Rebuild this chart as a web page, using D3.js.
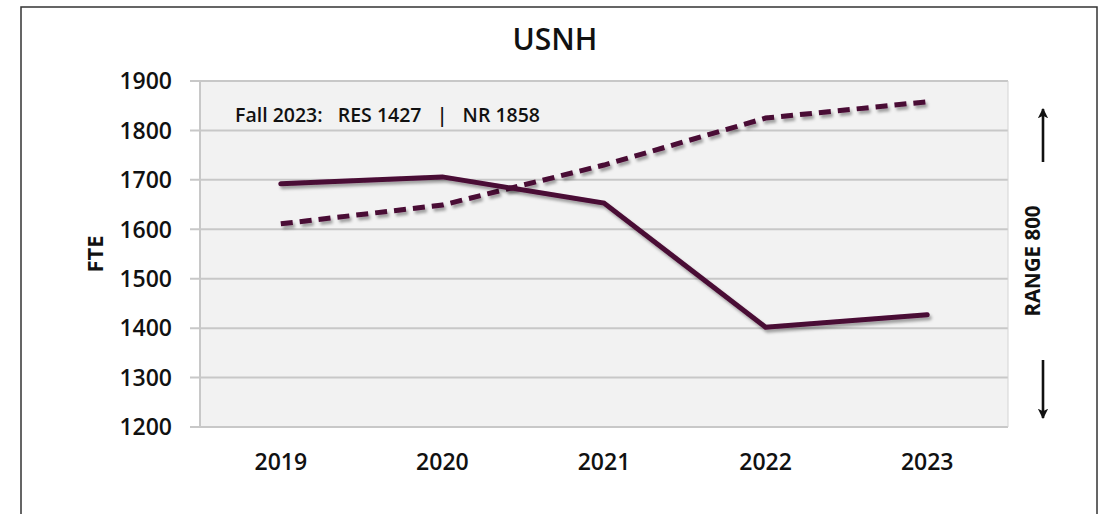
<!DOCTYPE html>
<html>
<head>
<meta charset="utf-8">
<script src="https://cdn.jsdelivr.net/npm/d3@7"></script>
<style>
  body { margin: 0; background: #fff; }
  text { font-family: "Open Sans", "Noto Sans", sans-serif; fill: #111; }
</style>
</head>
<body>
<svg width="1104" height="514"></svg>
<script>
  const years = ["2019", "2020", "2021", "2022", "2023"];
  const resValues = [1692, 1706, 1653, 1402, 1427];
  const nrValues = [1611, 1649, 1730, 1825, 1858];
  const yTicks = [1200, 1300, 1400, 1500, 1600, 1700, 1800, 1900];

  const svg = d3.select("svg");
  const lineColor = "#4a0934";

  const plot = { left: 200, right: 1008, top: 81, bottom: 427 };

  const x = d3.scaleBand().domain(years).range([plot.left, plot.right]);
  const y = d3.scaleLinear().domain([1200, 1900]).range([plot.bottom, plot.top]);

  // drop shadow for the lines
  const defs = svg.append("defs");
  defs.append("filter")
    .attr("id", "shadow")
    .attr("x", "-10%").attr("y", "-50%").attr("width", "120%").attr("height", "200%")
    .append("feDropShadow")
      .attr("dx", 2).attr("dy", 3)
      .attr("stdDeviation", 1.8)
      .attr("flood-color", "#000")
      .attr("flood-opacity", 0.35);

  // outer frame
  svg.append("rect")
    .attr("x", 21).attr("y", 7)
    .attr("width", 1076).attr("height", 520)
    .attr("fill", "none")
    .attr("stroke", "#333").attr("stroke-width", 1.5);

  // plot background
  svg.append("rect")
    .attr("x", plot.left).attr("y", plot.top)
    .attr("width", plot.right - plot.left).attr("height", plot.bottom - plot.top)
    .attr("fill", "#f2f2f2");

  // gridlines + y ticks
  svg.append("g")
    .selectAll("line")
    .data(yTicks)
    .enter().append("line")
      .attr("x1", plot.left - 10).attr("x2", plot.right)
      .attr("y1", d => y(d)).attr("y2", d => y(d))
      .attr("stroke", "#c8c8c8").attr("stroke-width", 2);

  svg.append("line")
    .attr("x1", plot.left).attr("x2", plot.left)
    .attr("y1", plot.top).attr("y2", plot.bottom)
    .attr("stroke", "#c8c8c8").attr("stroke-width", 2);

  svg.append("line")
    .attr("x1", plot.right).attr("x2", plot.right)
    .attr("y1", plot.top).attr("y2", plot.bottom)
    .attr("stroke", "#d4d4d4").attr("stroke-width", 1);

  svg.append("g")
    .selectAll("text")
    .data(yTicks)
    .enter().append("text")
      .attr("x", 172)
      .attr("y", d => y(d))
      .attr("dy", "0.36em")
      .attr("text-anchor", "end")
      .attr("font-size", 23)
      .attr("font-weight", 600)
      .text(d => d);

  svg.append("g")
    .selectAll("text")
    .data(years)
    .enter().append("text")
      .attr("x", d => x(d) + x.bandwidth() / 2)
      .attr("y", 470)
      .attr("text-anchor", "middle")
      .attr("font-size", 23)
      .attr("font-weight", 600)
      .text(d => d);

  // title
  svg.append("text")
    .attr("x", 555).attr("y", 50)
    .attr("text-anchor", "middle")
    .attr("font-size", 30)
    .attr("font-weight", 600)
    .text("USNH");

  // axis title
  svg.append("text")
    .attr("transform", "translate(103,254) rotate(-90)")
    .attr("text-anchor", "middle")
    .attr("font-size", 22)
    .attr("font-weight", 700)
    .text("FTE");

  // annotation
  svg.append("text")
    .attr("x", 235).attr("y", 122)
    .attr("font-size", 19.5)
    .attr("font-weight", 600)
    .attr("xml:space", "preserve")
    .text("Fall 2023:   RES 1427   |   NR 1858");

  // range label and arrows
  svg.append("text")
    .attr("transform", "translate(1040,261) rotate(-90)")
    .attr("text-anchor", "middle")
    .attr("font-size", 20.5)
    .attr("font-weight", 700)
    .text("RANGE 800");

  defs.append("marker")
    .attr("id", "arrow")
    .attr("viewBox", "0 0 10 10")
    .attr("refX", 9).attr("refY", 5)
    .attr("markerWidth", 4).attr("markerHeight", 4)
    .attr("orient", "auto")
    .append("path")
      .attr("d", "M0,0 L10,5 L0,10 L2.5,5 Z")
      .attr("fill", "#111");

  svg.append("line")
    .attr("x1", 1043).attr("x2", 1043)
    .attr("y1", 162).attr("y2", 109)
    .attr("stroke", "#111").attr("stroke-width", 2.6)
    .attr("marker-end", "url(#arrow)");

  svg.append("line")
    .attr("x1", 1043).attr("x2", 1043)
    .attr("y1", 360).attr("y2", 418)
    .attr("stroke", "#111").attr("stroke-width", 2.6)
    .attr("marker-end", "url(#arrow)");

  // lines
  const line = d3.line()
    .x((d, i) => x(years[i]) + x.bandwidth() / 2)
    .y(d => y(d));

  svg.append("path")
    .datum(nrValues)
    .attr("d", line)
    .attr("fill", "none")
    .attr("stroke", lineColor)
    .attr("stroke-width", 5)
    .attr("stroke-dasharray", "12,7")
    .attr("filter", "url(#shadow)");

  svg.append("path")
    .datum(resValues)
    .attr("d", line)
    .attr("fill", "none")
    .attr("stroke", lineColor)
    .attr("stroke-width", 5)
    .attr("stroke-linecap", "round")
    .attr("filter", "url(#shadow)");
</script>
</body>
</html>
